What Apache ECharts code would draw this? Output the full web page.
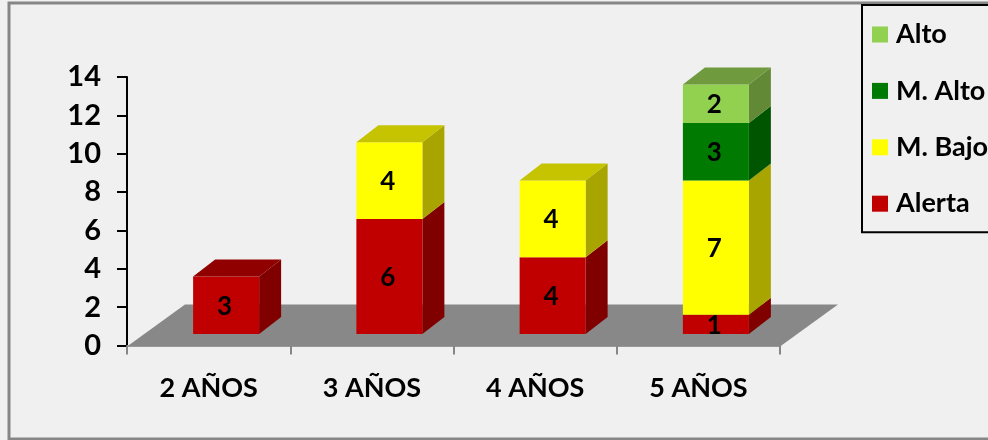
<!DOCTYPE html>
<html>
<head>
<meta charset="utf-8">
<script src="https://cdn.jsdelivr.net/npm/echarts@6/dist/echarts.min.js"></script>
<style>
  html, body { margin: 0; padding: 0; background: #f0f0f0; overflow: hidden; }
  #chart { width: 988px; height: 440px; }
</style>
</head>
<body>
<div id="chart"></div>
<script>
  const categories = ['2 AÑOS', '3 AÑOS', '4 AÑOS', '5 AÑOS'];
  const legendOrder = ['Alto', 'M. Alto', 'M. Bajo', 'Alerta'];
  const alerta = [3, 6, 4, 1];
  const medioBajo = [0, 4, 4, 7];
  const medioAlto = [0, 0, 0, 3];
  const alto = [0, 0, 0, 2];

  const FONT = 'Lato';
  // bar depth and floor depth, in px
  const barW = 66, barDx = 22, barDy = 17;
  const faceShift = 17.5, baseLift = 11.6;
  const floorDx = 58, floorDy = 42;

  function shade(pts, fill) {
    return {type: 'polygon', shape: {points: pts}, style: {fill: fill}};
  }

  function stackSeries(name, values, below, above, colors) {
    return {
      name: name,
      type: 'custom',
      z: 3,
      itemStyle: {color: colors.front},
      data: values.map((v, i) => [i, v]),
      encode: {x: 0, y: 1},
      renderItem: function (params, api) {
        const i = api.value(0);
        const v = api.value(1);
        if (!v) return;
        const base = below.reduce((sum, arr) => sum + arr[i], 0);
        const isTop = above.every(arr => arr[i] === 0);
        const cx = api.coord([i, 0])[0] + faceShift;
        const y0 = api.coord([i, base])[1] - baseLift;
        const y1 = api.coord([i, base + v])[1] - baseLift;
        const x0 = cx - barW / 2, x1 = cx + barW / 2;
        const children = [
          shade([[x1, y0], [x1 + barDx, y0 - barDy], [x1 + barDx, y1 - barDy], [x1, y1]], colors.side),
          shade([[x0, y0], [x1, y0], [x1, y1], [x0, y1]], colors.front)
        ];
        if (isTop) {
          children.push(shade([[x0, y1], [x1, y1], [x1 + barDx, y1 - barDy], [x0 + barDx, y1 - barDy]], colors.top));
        }
        children.push({
          type: 'text',
          style: {
            text: String(v), x: cx - 1.5, y: (y0 + y1) / 2 + 1,
            align: 'center', verticalAlign: 'middle',
            fill: '#000', font: 'bold 26px ' + FONT
          }
        });
        return {type: 'group', children: children};
      }
    };
  }

  const floorSeries = {
    type: 'custom',
    silent: true,
    z: 1,
    data: [[0, 0]],
    renderItem: function (params, api) {
      const r = params.coordSys;
      const yb = api.coord([0, 0])[1] + 1;
      return shade([[r.x, yb], [r.x + r.width, yb], [r.x + r.width + floorDx, yb - floorDy], [r.x + floorDx, yb - floorDy]], '#888888');
    }
  };

  const chart = echarts.init(document.getElementById('chart'), null, {renderer: 'canvas'});
  chart.setOption({
    animation: false,
    backgroundColor: '#f0f0f0',
    grid: {left: 127, right: 208, top: 77, bottom: 94.4},
    graphic: [{
      type: 'rect', z: 0, silent: true,
      shape: {x: 9, y: 3, width: 1000, height: 436},
      style: {fill: 'none', stroke: '#868686', lineWidth: 3}
    }],
    legend: {
      left: 862, top: 5,
      orient: 'vertical',
      data: legendOrder,
      icon: 'rect',
      itemWidth: 16, itemHeight: 16, itemGap: 29.4,
      padding: [16, 20, 15, 10],
      borderColor: '#000', borderWidth: 2,
      backgroundColor: '#f0f0f0',
      textStyle: {fontFamily: FONT, fontWeight: 'bold', fontSize: 27, color: '#000', padding: [0, 0, 0, 3]}
    },
    xAxis: {
      type: 'category',
      data: categories,
      axisLine: {show: true, lineStyle: {color: '#a6a6a6', width: 2}},
      axisTick: {show: true, length: 9, lineStyle: {color: '#868686', width: 2}},
      axisLabel: {fontFamily: FONT, fontWeight: 'bold', fontSize: 27, color: '#000', margin: 29}
    },
    yAxis: {
      type: 'value',
      min: 0, max: 14, interval: 2,
      splitLine: {show: false},
      axisLine: {show: true, lineStyle: {color: '#000', width: 2}},
      axisTick: {show: true, length: 10, lineStyle: {color: '#000', width: 2}},
      axisLabel: {fontFamily: FONT, fontWeight: 'bold', fontSize: 29, color: '#000', margin: 26, padding: [3, 0, 0, 0]}
    },
    series: [
      floorSeries,
      stackSeries('Alerta', alerta, [], [medioBajo, medioAlto, alto], {front: '#c00000', side: '#800000', top: '#900000'}),
      stackSeries('M. Bajo', medioBajo, [alerta], [medioAlto, alto], {front: '#ffff00', side: '#a9a500', top: '#c6c300'}),
      stackSeries('M. Alto', medioAlto, [alerta, medioBajo], [alto], {front: '#007a00', side: '#005600', top: '#006400'}),
      stackSeries('Alto', alto, [alerta, medioBajo, medioAlto], [], {front: '#92d050', side: '#628a36', top: '#6f9a3e'})
    ]
  });
</script>
</body>
</html>
